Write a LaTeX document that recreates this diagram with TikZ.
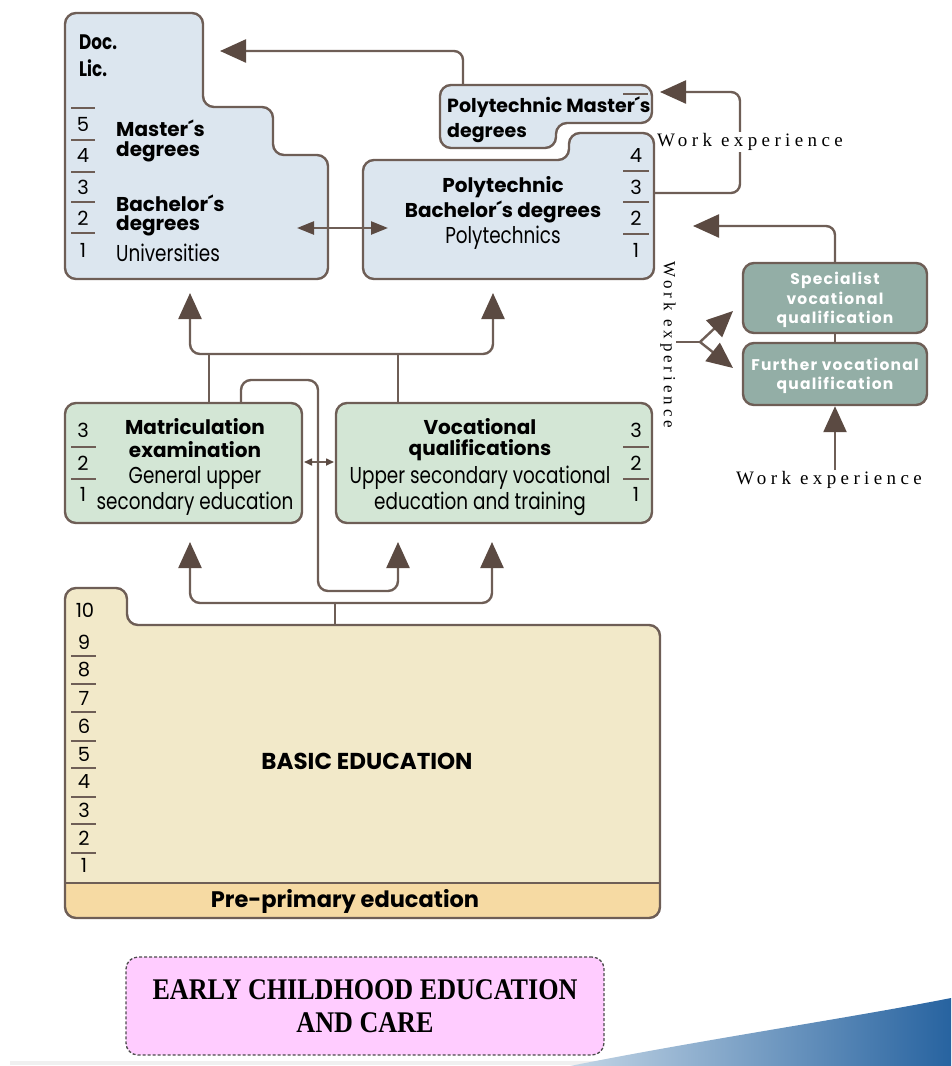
\documentclass[tikz,border=0pt]{standalone}
\usepackage{fontspec}
\usetikzlibrary{arrows.meta}
\newfontfamily\hdfont{Poppins}
\newfontfamily\cdfont{Poppins}[FakeStretch=0.8]
\newfontfamily\wtfont{Poppins}[LetterSpace=8]
\newfontfamily\wxfont{Liberation Serif}[LetterSpace=23]
\newfontfamily\ecfont{Liberation Serif}[FakeStretch=0.87]
\definecolor{edge}{HTML}{6E5E56}
\definecolor{head}{HTML}{5B4A42}
\definecolor{unifill}{HTML}{DCE6EF}
\definecolor{secfill}{HTML}{D3E6D5}
\definecolor{tealfill}{HTML}{93AEA6}
\definecolor{basicfill}{HTML}{F2E9C9}
\definecolor{prefill}{HTML}{F6DAA3}
\definecolor{ecfill}{HTML}{FFCCFF}
\definecolor{swA}{HTML}{C4D6E6}
\definecolor{swB}{HTML}{2763A0}
\tikzset{
  box/.style={draw=edge, line width=2.4pt, rounded corners=11pt},
  conn/.style={draw=edge, line width=2.4pt},
  arr/.style={conn, -{Triangle[length=26pt,width=23pt,color=head]}},
  tinyarr/.style={conn, line width=1.6pt, {Triangle[length=8pt,width=7pt,color=head]}-{Triangle[length=8pt,width=7pt,color=head]}},
  midarr/.style={conn, {Triangle[length=17pt,width=13pt,color=head]}-{Triangle[length=17pt,width=13pt,color=head]}},
  sep/.style={draw=edge, line width=1.6pt},
  hd/.style={font=\hdfont\bfseries\fontsize{20}{23}\selectfont, inner sep=0pt},
  hdc/.style={font=\cdfont\bfseries\fontsize{21}{24}\selectfont, inner sep=0pt},
  cd/.style={font=\cdfont\fontsize{23}{25}\selectfont, inner sep=0pt},
  num/.style={font=\hdfont\fontsize{19.5}{22}\selectfont, inner sep=0pt},
  wt/.style={font=\wtfont\bfseries\fontsize{15.5}{19.5}\selectfont, text=white, align=center, inner sep=0pt},
  wx/.style={font=\wxfont\fontsize{19}{21}\selectfont, inner sep=1pt},
}
\begin{document}
\begin{tikzpicture}[x=1pt,y=-1pt]
\useasboundingbox (0,0) rectangle (951,1066);
% background swoosh
\draw[line width=4pt, black!6] (10,1063) -- (600,1063);
\shade[left color=swA, right color=swB] (570,1066) .. controls (700,1040) and (850,1018) .. (951,998) -- (951,1066) -- cycle;

% higher education
\draw[box, fill=unifill] (65,13) -- (203,13) -- (203,107) -- (273,107) -- (273,155) -- (328,155) -- (328,279) -- (65,279) -- cycle;
\draw[box, fill=unifill] (440,85) -- (652,85) -- (652,123) -- (556,123) -- (556,148) -- (440,148) -- cycle;
\draw[box, fill=unifill] (363,160) -- (569,160) -- (569,133) -- (654,133) -- (654,279) -- (363,279) -- cycle;

\node[hdc, anchor=west] (doc) at (79,42) {Doc.};
\node[hdc, anchor=west] (lic) at (79,68) {Lic.};
\foreach \n/\y in {5/124,4/156,3/187,2/218,1/250}
  \node[num] (u\n) at (83,\y) {\n};
\foreach \y in {108,140,172,202,233}
  \draw[sep] (71,\y) -- (95,\y);
\node[hd, anchor=west] (ma1) at (116,128) {Master´s};
\node[hd, anchor=west] (ma2) at (116,152) {degrees};
\node[hd, anchor=west] (ba1) at (116,203) {Bachelor´s};
\node[hd, anchor=west] (ba2) at (116,226) {degrees};
\node[cd, anchor=west] (uni) at (116,253) {Universities};

\node[hd, anchor=west, font=\hdfont\bfseries\fontsize{19}{22}\selectfont] (pm1) at (447,107) {Polytechnic Master´s};
\node[hd, anchor=west, font=\hdfont\bfseries\fontsize{19}{22}\selectfont] (pm2) at (447,133) {degrees};
\draw[sep] (623,94) -- (648,94);

\node[hd] (pb1) at (503,187) {Polytechnic};
\node[hd] (pb2) at (503,212) {Bachelor´s degrees};
\node[cd] (poly) at (503,238) {Polytechnics};
\foreach \n/\y in {4/156,3/187,2/218,1/250}
  \node[num] (p\n) at (636,\y) {\n};
\foreach \y in {171,202,234}
  \draw[sep] (623,\y) -- (649,\y);

% vocational further education
\node[box, fill=tealfill, minimum width=184pt, minimum height=70pt] (spec) at (835,298) {};
\node[box, fill=tealfill, minimum width=184pt, minimum height=62pt] (fur) at (835,374) {};
\node[wt] (spect) at (835,300) {Specialist\\vocational\\qualification};
\node[wt] (furt) at (835,376) {Further vocational\\qualification};

% upper secondary
\node[box, fill=secfill, minimum width=237pt, minimum height=120pt] (mat) at (183.5,463) {};
\node[box, fill=secfill, minimum width=316pt, minimum height=120pt] (voc) at (494,463) {};
\node[hd] (mt1) at (195,427) {Matriculation};
\node[hd] (mt2) at (195,450) {examination};
\node[cd] (mt3) at (195,478) {General upper};
\node[cd] (mt4) at (195,504) {secondary education};
\foreach \n/\y in {3/430,2/463,1/494}
  \node[num] (m\n) at (83,\y) {\n};
\foreach \y in {447,479}
  \draw[sep] (71,\y) -- (96,\y);
\node[hd] (vc1) at (480,427) {Vocational};
\node[hd] (vc2) at (480,450) {qualifications};
\node[cd] (vc3) at (480,478) {Upper secondary vocational};
\node[cd] (vc4) at (480,504) {education and training};
\foreach \n/\y in {3/430,2/463,1/494}
  \node[num] (v\n) at (636,\y) {\n};
\foreach \y in {447,479}
  \draw[sep] (623,\y) -- (649,\y);

% basic education
\begin{scope}
  \clip[rounded corners=11pt] (65,918) -- (65,588) -- (127,588) -- (127,625) -- (660,625) -- (660,918) -- cycle;
  \fill[basicfill] (0,580) rectangle (700,883);
  \fill[prefill] (0,883) rectangle (700,930);
\end{scope}
\draw[box] (65,918) -- (65,588) -- (127,588) -- (127,625) -- (660,625) -- (660,918) -- cycle;
\draw[sep, line width=2.4pt] (65,883) -- (660,883);
\node[num] (b10) at (85,610) {10};
\foreach \n/\y in {9/642,8/670,7/698,6/726,5/754,4/782,3/810,2/838,1/865}
  \node[num] (b\n) at (84,\y) {\n};
\foreach \y in {656,684,712,741,768,797,824,853}
  \draw[sep] (71,\y) -- (96,\y);
\node[hd, font=\hdfont\bfseries\fontsize{23}{26}\selectfont] (basic) at (367,761) {BASIC EDUCATION};
\node[hd, font=\hdfont\bfseries\fontsize{22.5}{26}\selectfont] (pre) at (345,901) {Pre-primary education};

% early childhood
\node[draw=black!70, densely dashed, line width=1.3pt, rounded corners=12pt, fill=ecfill,
  minimum width=478pt, minimum height=98pt, align=center,
  font=\ecfont\bfseries\fontsize{30}{33}\selectfont] (ecec) at (365,1006)
  {EARLY CHILDHOOD EDUCATION\\AND CARE};

% connector points
\coordinate (pmT) at (463,85);
\coordinate (uniD) at (220,51);
\coordinate (pbR) at (654,193);
\coordinate (pmR) at (660,92);
\coordinate (pbA) at (693,226);
\coordinate (uniR) at (297,228);
\coordinate (pbL) at (388,228);
\coordinate (uniU) at (190,293);
\coordinate (pbU) at (493,293);
\coordinate (jU) at (300,354);
\coordinate (mT) at (209,403);
\coordinate (mT2) at (241,403);
\coordinate (vT) at (398,403);
\coordinate (gapT) at (318,380);
\coordinate (loopB) at (398,591);
\coordinate (vU2) at (398,542);
\coordinate (mU) at (190,542);
\coordinate (vU) at (492,542);
\coordinate (bT) at (335,625);
\coordinate (jB) at (335,603);
\coordinate (mR) at (304,462);
\coordinate (vL) at (334,462);
\coordinate (fkS) at (676,342);
\coordinate (fkM) at (700,342);
\coordinate (fkA) at (733,311);
\coordinate (fkB) at (733,368);

% connectors
\draw[arr, rounded corners=9pt] (pmT) |- (uniD);
\draw[arr, rounded corners=9pt] (pbR) -- ++(86,0) |- (pmR);
\draw[arr, rounded corners=9pt] (spec.north) |- (pbA);
\draw[conn] (spec.south) -- (fur.north);
\draw[midarr] (uniR) -- (pbL);
\draw[conn] (mT) -- (mT |- jU);
\draw[conn] (vT) -- (vT |- jU);
\draw[arr, rounded corners=10pt] (jU) -| (uniU);
\draw[arr, rounded corners=10pt] (jU) -| (pbU);
\draw[arr, rounded corners=10pt] (mT2) |- (gapT) |- (loopB) -- (vU2);
\draw[conn] (bT) -- (jB);
\draw[arr, rounded corners=10pt] (jB) -| (mU);
\draw[arr, rounded corners=10pt] (jB) -| (vU);
\draw[tinyarr] (mR) -- (vL);
\draw[conn] (fkS) -- (fkM);
\draw[arr] (fkM) -- (fkA);
\draw[arr] (fkM) -- (fkB);

% work experience labels
\node[wx, fill=white, anchor=west] (wexT) at (656,142) {Work experience};
\node[wx, rotate=-90, font=\wxfont\fontsize{17}{19}\selectfont] (wexV) at (668,345) {Work experience};
\node[wx] (wexB) at (829,480) {Work experience};
\draw[arr] (wexB.north -| fur.south) -- (fur.south);
\end{tikzpicture}
\end{document}
